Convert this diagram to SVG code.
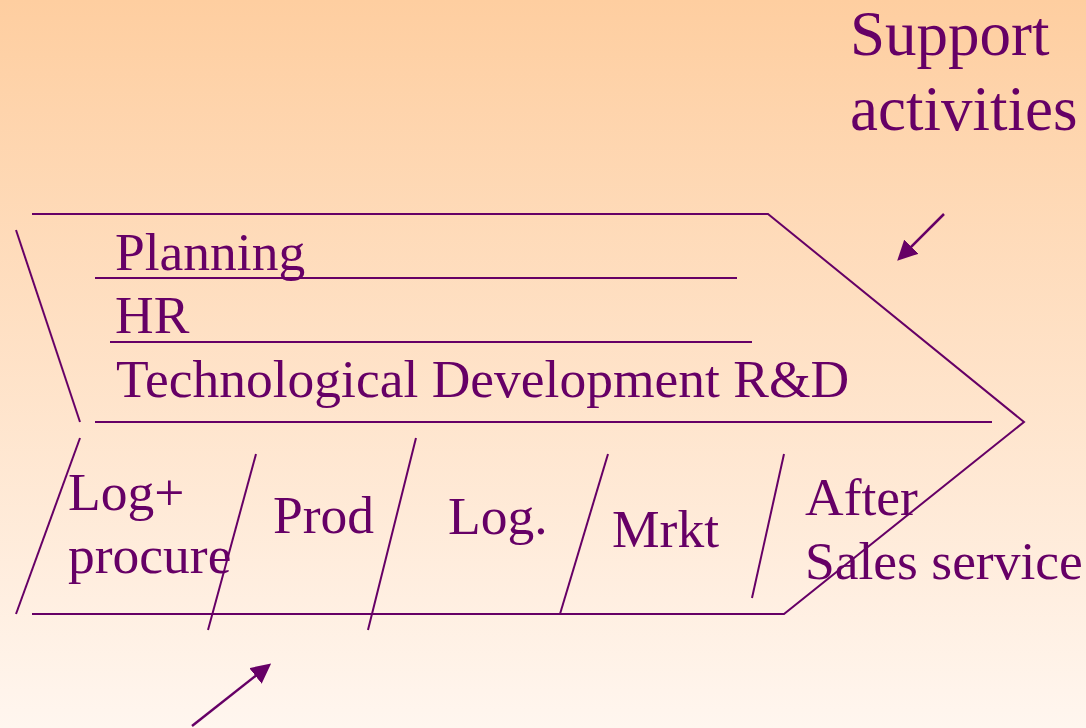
<svg xmlns="http://www.w3.org/2000/svg" width="1086" height="728" viewBox="0 0 1086 728">
<defs>
<linearGradient id="bg" x1="0" y1="0" x2="0" y2="1">
<stop offset="0" stop-color="#FECEA0"/>
<stop offset="1" stop-color="#FFF6EF"/>
</linearGradient>
<marker id="ah" viewBox="0 0 10 10" refX="8" refY="5" markerWidth="8" markerHeight="8" orient="auto" markerUnits="strokeWidth">
<path d="M0,0 L10,5 L0,10 z" fill="#660066"/>
</marker>
<style>
.ln{stroke:#660066;stroke-width:2;fill:none}
.ar{stroke:#660066;stroke-width:2.5;fill:none}
.t{font-family:"Liberation Serif","Times New Roman",serif;fill:#660066;font-size:53.5px}
.big{font-size:63px}
</style>
</defs>
<rect width="1086" height="728" fill="url(#bg)"/>
<g id="connectors">
<path class="ln" d="M32,214 L768,214 L1024,422 L784,614 L32,614"/>
<line class="ln" x1="16" y1="230" x2="80" y2="422"/>
<line class="ln" x1="95" y1="278" x2="737" y2="278"/>
<line class="ln" x1="110" y1="342" x2="752" y2="342"/>
<line class="ln" x1="95" y1="422" x2="992" y2="422"/>
<line class="ln" x1="80" y1="438" x2="16" y2="614"/>
<line class="ln" x1="256" y1="454" x2="208" y2="630"/>
<line class="ln" x1="416" y1="438" x2="368" y2="630"/>
<line class="ln" x1="608" y1="454" x2="560" y2="614"/>
<line class="ln" x1="784" y1="454" x2="752" y2="598"/>
<line class="ar" x1="944" y1="214" x2="900" y2="258" marker-end="url(#ah)"/>
<line class="ar" x1="192" y1="726" x2="268" y2="666" marker-end="url(#ah)"/>
</g>
<g id="support-label"><text class="t big" x="850" y="55">Support</text><text class="t big" x="850" y="130">activities</text></g>
<g id="planning"><text class="t" x="115" y="270">Planning</text></g>
<g id="hr"><text class="t" x="115" y="333">HR</text></g>
<g id="tech"><text class="t" x="116" y="397">Technological Development R&amp;D</text></g>
<g id="inbound"><text class="t" x="68" y="510">Log+</text><text class="t" x="68" y="573">procure</text></g>
<g id="prod"><text class="t" x="273" y="533">Prod</text></g>
<g id="outbound"><text class="t" x="448" y="534">Log.</text></g>
<g id="mrkt"><text class="t" x="612" y="547">Mrkt</text></g>
<g id="service"><text class="t" x="805" y="515">After</text><text class="t" x="805" y="579">Sales service</text></g>
</svg>
